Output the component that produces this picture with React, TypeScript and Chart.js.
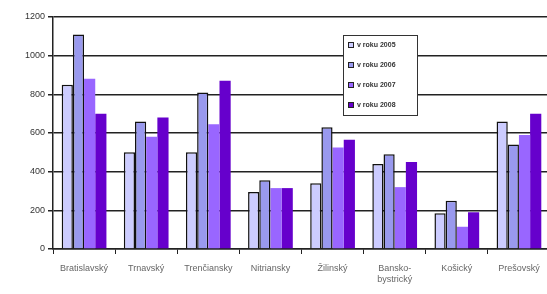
import React, { useEffect, useRef } from "react";
import { Chart, registerables } from "chart.js";

Chart.register(...registerables);

const categories: (string | string[])[] = [
  "Bratislavský",
  "Trnavský",
  "Trenčiansky",
  "Nitriansky",
  "Žilinský",
  ["Bansko-", "bystrický"],
  "Košický",
  "Prešovský",
];
const seriesNames = ["v roku 2005", "v roku 2006", "v roku 2007", "v roku 2008"];
const values2005 = [850, 500, 500, 295, 340, 440, 185, 660];
const values2006 = [1110, 660, 810, 355, 630, 490, 250, 540];
const values2007 = [880, 580, 645, 315, 525, 320, 115, 590];
const values2008 = [700, 680, 870, 315, 565, 450, 190, 700];
const yTicks = [0, 200, 400, 600, 800, 1000, 1200];

const colors = ["#ccccff", "#9999ee", "#9966ff", "#6600cc"];
const borders = ["#111111", "#111111", "rgba(0,0,0,0)", "rgba(0,0,0,0)"];

const legendPlugin = {
  id: "boxLegend",
  afterDraw(chart: any) {
    const ctx = chart.ctx;
    const x = 343, y = 35, w = 74, h = 80;
    ctx.save();
    ctx.fillStyle = "#ffffff";
    ctx.fillRect(x, y, w, h);
    ctx.strokeStyle = "#333333";
    ctx.lineWidth = 1;
    ctx.strokeRect(x + 0.5, y + 0.5, w, h);
    ctx.font = "bold 7px 'Liberation Sans', Arial, sans-serif";
    ctx.textBaseline = "middle";
    chart.data.datasets.forEach((ds: any, i: number) => {
      const cy = 45 + i * 20;
      ctx.fillStyle = ds.backgroundColor;
      ctx.fillRect(348, cy - 3, 6, 6);
      ctx.strokeStyle = "#222";
      ctx.strokeRect(348.5, cy - 2.5, 5, 5);
      ctx.fillStyle = "#333333";
      ctx.fillText(ds.label, 357, cy);
    });
    ctx.restore();
  },
};

export default function App() {
  const ref = useRef<HTMLCanvasElement | null>(null);
  useEffect(() => {
    if (!ref.current) return;
    const data = [values2005, values2006, values2007, values2008];
    const chart = new Chart(ref.current, {
      type: "bar",
      data: {
        labels: categories,
        datasets: seriesNames.map((name, i) => ({
          label: name,
          data: data[i],
          backgroundColor: colors[i],
          borderColor: borders[i],
          borderWidth: i < 2 ? 1.5 : 0,
          categoryPercentage: 0.72,
          barPercentage: 1.0,
        })),
      },
      options: {
        animation: false,
        responsive: false,
        maintainAspectRatio: false,
        layout: { padding: { top: 17, right: 0, left: 0, bottom: 0 } },
        plugins: { legend: { display: false }, tooltip: { enabled: false } },
        scales: {
          x: {
            offset: true,
            grid: {
              display: true,
              drawOnChartArea: false,
              drawTicks: true,
              tickLength: 5,
              offset: true,
              color: "#222",
            },
            border: { display: true, color: "#222", width: 1.5 },
            ticks: {
              color: "#666",
              font: { family: "'Liberation Sans', Arial, sans-serif", size: 9 },
              maxRotation: 0,
              autoSkip: false,
              padding: 9,
            },
            afterFit(scale: any) {
              scale.height = 45;
            },
          },
          y: {
            min: 0,
            max: 1200,
            afterBuildTicks(scale: any) {
              scale.ticks = yTicks.map((v) => ({ value: v }));
            },
            grid: {
              color: "#222",
              lineWidth: 1.5,
              tickLength: 5,
            },
            border: { display: true, color: "#222", width: 1.5 },
            ticks: {
              color: "#333",
              font: { family: "'Liberation Sans', Arial, sans-serif", size: 9 },
              padding: 3,
              callback: (v: any) => String(v),
            },
            afterFit(scale: any) {
              scale.width = 53;
            },
          },
        },
      },
      plugins: [legendPlugin],
    });
    return () => chart.destroy();
  }, []);
  return (
    <div style={{ position: "fixed", left: 0, top: 0, width: 547, height: 294, overflow: "hidden", background: "#fff" }}>
      <canvas ref={ref} width={550} height={294} style={{ width: 550, height: 294 }} />
    </div>
  );
}
